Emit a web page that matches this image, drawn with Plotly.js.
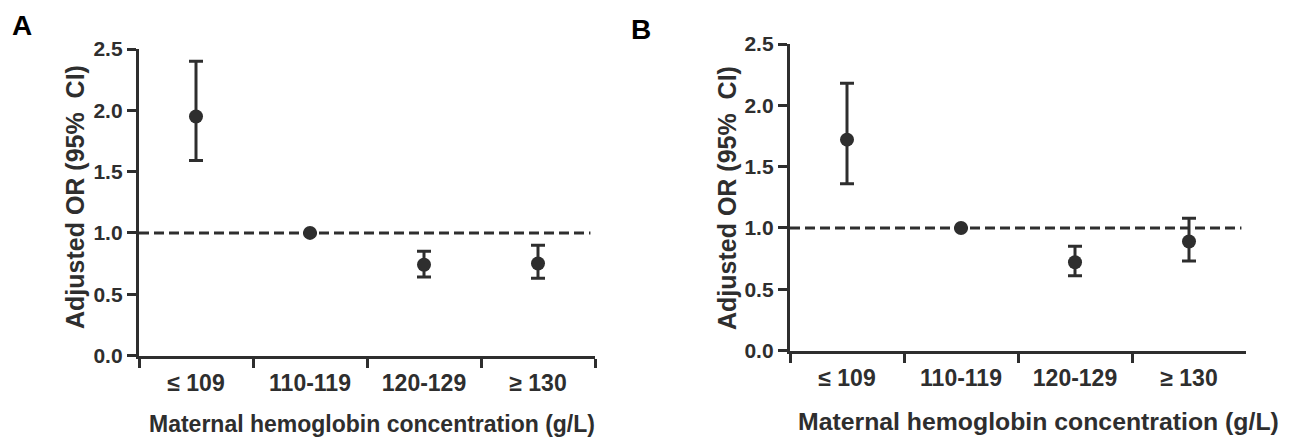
<!DOCTYPE html>
<html>
<head>
<meta charset="utf-8">
<script src="https://cdn.plot.ly/plotly-3.0.1.min.js"></script>
<style>html,body{margin:0;padding:0;background:#fff;}#chart{width:1298px;height:443px;}</style>
</head>
<body>
<div id="chart"></div>
<script>
// ---- data ----
const categories = ["\u2264 109", "110-119", "120-129", "\u2265 130"];
const orA = [1.95, 1.00, 0.74, 0.75];
const lowA = [1.59, 1.00, 0.64, 0.63];
const highA = [2.40, 1.00, 0.85, 0.90];
const orB = [1.72, 1.00, 0.72, 0.89];
const lowB = [1.36, 1.00, 0.61, 0.73];
const highB = [2.18, 1.00, 0.85, 1.08];
const refValue = 1.0;
const yTickVals = [0, 0.5, 1.0, 1.5, 2.0, 2.5];
const panelLabels = ["A", "B"];
const xTitle = "Maternal hemoglobin concentration (g/L)";
const yTitle = "Adjusted OR (95%  CI)";

// ---- styles ----
const INK = "#2e2e2e";
const FONT = "Liberation Sans, Arial, sans-serif";

function trace(vals, lo, hi, xa, ya) {
  return {
    type: "scatter", mode: "markers",
    x: categories, y: vals, xaxis: xa, yaxis: ya,
    marker: {size: 14, color: INK},
    error_y: {
      type: "data", symmetric: false,
      array: hi.map((h, i) => h - vals[i]),
      arrayminus: lo.map((l, i) => vals[i] - l),
      color: INK, thickness: 3, width: 7
    },
    hoverinfo: "x+y", showlegend: false
  };
}

function xAxis(domain, anchor) {
  return {
    domain: domain, anchor: anchor, type: "category",
    categoryorder: "array", categoryarray: categories,
    range: [-0.5, 3.5], tickson: "boundaries",
    showline: true, linecolor: INK, linewidth: 3.2,
    ticks: "outside", ticklen: 9, tickwidth: 3, tickcolor: INK,
    ticklabelstandoff: 5,
    showgrid: false, zeroline: false, fixedrange: true,
    tickfont: {family: FONT, size: 23, color: INK, weight: 700}
  };
}
function yAxis(domain, anchor) {
  return {
    domain: domain, anchor: anchor, range: [0, 2.5],
    tickvals: yTickVals, tickformat: ".1f",
    showline: true, linecolor: INK, linewidth: 3.2,
    ticks: "outside", ticklen: 9, tickwidth: 3, tickcolor: INK,
    showgrid: false, zeroline: false, fixedrange: true,
    tickfont: {family: FONT, size: 21, color: INK, weight: 700}
  };
}

const W = 1298, H = 443;
const layout = {
  width: W, height: H,
  margin: {l: 0, r: 0, t: 0, b: 0},
  paper_bgcolor: "#fff", plot_bgcolor: "rgba(0,0,0,0)",
  showlegend: false,
  xaxis: xAxis([139 / W, 595 / W], "y"),
  yaxis: yAxis([(H - 355.5) / H, (H - 49) / H], "x"),
  xaxis2: xAxis([790 / W, 1246 / W], "y2"),
  yaxis2: yAxis([(H - 350.6) / H, (H - 44) / H], "x2"),
  shapes: [
    {type: "line", xref: "x", yref: "y", x0: -0.5, x1: 3.46, y0: refValue, y1: refValue,
     line: {color: INK, width: 3, dash: "10px,5px"}, layer: "below"},
    {type: "line", xref: "x2", yref: "y2", x0: -0.5, x1: 3.46, y0: refValue, y1: refValue,
     line: {color: INK, width: 3, dash: "10px,5px"}, layer: "below"}
  ],
  annotations: [
    {text: panelLabels[0], xref: "paper", yref: "paper", x: 22 / W, y: 1 - 25 / H,
     showarrow: false, xanchor: "center", yanchor: "middle",
     font: {family: FONT, size: 28, color: "#000", weight: 700}},
    {text: panelLabels[1], xref: "paper", yref: "paper", x: 641 / W, y: 1 - 29 / H,
     showarrow: false, xanchor: "center", yanchor: "middle",
     font: {family: FONT, size: 28, color: "#000", weight: 700}},
    {text: xTitle, xref: "paper", yref: "paper", x: 372 / W, y: 1 - 424 / H,
     showarrow: false, xanchor: "center", yanchor: "middle",
     font: {family: FONT, size: 23, color: INK, weight: 700}},
    {text: xTitle, xref: "paper", yref: "paper", x: 1038 / W, y: 1 - 421 / H,
     showarrow: false, xanchor: "center", yanchor: "middle",
     font: {family: FONT, size: 24.8, color: INK, weight: 700}},
    {text: yTitle, xref: "paper", yref: "paper", x: 75 / W, y: 1 - 197 / H,
     showarrow: false, xanchor: "center", yanchor: "middle", textangle: -90,
     font: {family: FONT, size: 25, color: INK, weight: 700}},
    {text: yTitle, xref: "paper", yref: "paper", x: 727 / W, y: 1 - 198 / H,
     showarrow: false, xanchor: "center", yanchor: "middle", textangle: -90,
     font: {family: FONT, size: 25, color: INK, weight: 700}}
  ]
};

Plotly.newPlot("chart", [trace(orA, lowA, highA, "x", "y"), trace(orB, lowB, highB, "x2", "y2")],
  layout, {staticPlot: true, displayModeBar: false});
</script>
</body>
</html>
